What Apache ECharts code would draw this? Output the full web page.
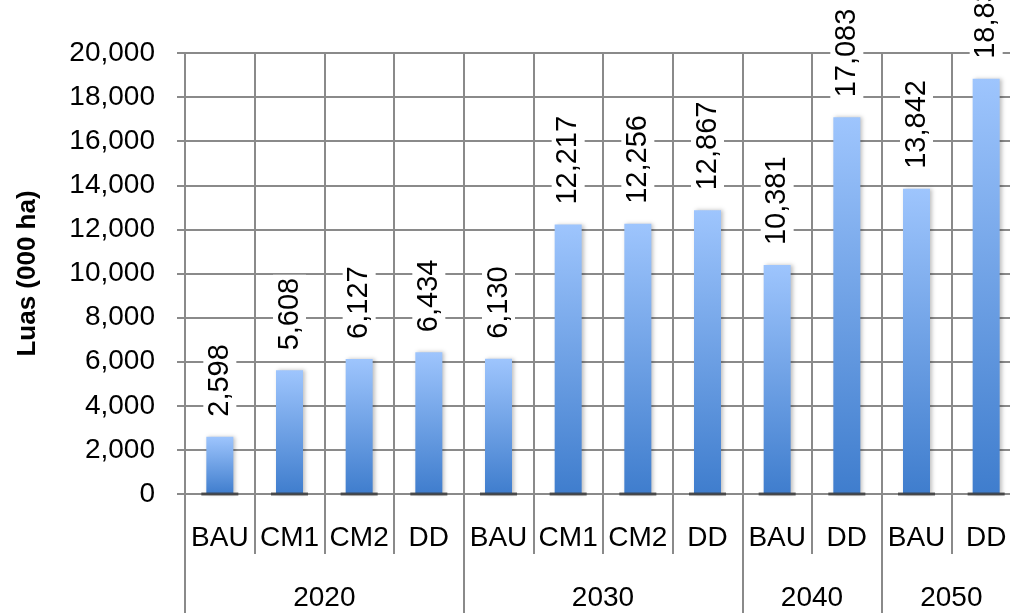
<!DOCTYPE html>
<html>
<head>
<meta charset="utf-8">
<style>html,body{margin:0;padding:0;background:#fff}#main{width:1010px;height:613px}</style>
<script src="https://cdn.jsdelivr.net/npm/echarts@6/dist/echarts.min.js"></script>
</head>
<body>
<div id="main"></div>
<script>
var scenarios = ['BAU', 'CM1', 'CM2', 'DD', 'BAU', 'CM1', 'CM2', 'DD', 'BAU', 'DD', 'BAU', 'DD'];
var values = [2598, 5608, 6127, 6434, 6130, 12217, 12256, 12867, 10381, 17083, 13842, 18830];
var years = ['2020', '2030', '2040', '2050'];
var yearCounts = [4, 4, 2, 2];

// year group boundaries and centres on a 0..12 value scale
var bounds = [0], centres = [];
yearCounts.forEach(function (n) {
  var start = bounds[bounds.length - 1];
  centres.push(start + n / 2);
  bounds.push(start + n);
});

var gridColor = '#8a8a8a';
var font = 'Liberation Sans';
var myChart = echarts.init(document.getElementById('main'));
myChart.setOption({
  animation: false,
  grid: { left: 185, width: 836, top: 53, bottom: 119, outerBoundsMode: 'none', containLabel: false },
  xAxis: [{
    type: 'category',
    data: scenarios,
    axisLine: { lineStyle: { color: gridColor, width: 2 } },
    axisTick: { show: true, interval: 0, length: 60, lineStyle: { color: gridColor, width: 2 } },
    splitLine: { show: true, interval: 0, lineStyle: { color: gridColor, width: 2 } },
    axisLabel: { interval: 0, color: '#000', fontFamily: font, fontSize: 28, margin: 30 }
  }, {
    type: 'value',
    min: 0,
    max: scenarios.length,
    position: 'bottom',
    axisLine: { show: false },
    splitLine: { show: false },
    axisTick: { show: true, customValues: bounds, length: 125, lineStyle: { color: gridColor, width: 2 } },
    axisLabel: {
      customValues: centres, color: '#000', fontFamily: font, fontSize: 28, margin: 90,
      formatter: function (v) { return years[centres.indexOf(v)]; }
    }
  }],
  yAxis: {
    type: 'value',
    min: 0,
    max: 20000,
    interval: 2000,
    name: 'Luas (000 ha)',
    nameLocation: 'middle',
    nameRotate: 90,
    nameGap: 144,
    nameTextStyle: { fontFamily: font, fontWeight: 'bold', fontSize: 26, color: '#000' },
    axisLine: { show: true, lineStyle: { color: gridColor, width: 2 } },
    axisTick: { show: true, length: 8, lineStyle: { color: gridColor, width: 2 } },
    splitLine: { lineStyle: { color: gridColor, width: 2 } },
    axisLabel: {
      color: '#000', fontFamily: font, fontSize: 28, margin: 30,
      formatter: function (v) { return v.toLocaleString('en-US'); }
    }
  },
  series: [{
    type: 'bar',
    data: values,
    barWidth: 27,
    z: 3,
    itemStyle: {
      color: new echarts.graphic.LinearGradient(0, 0, 0, 1, [
        { offset: 0, color: '#9ec5fd' },
        { offset: 1, color: '#3f7dcd' }
      ]),
      shadowColor: 'rgba(0,0,0,0.25)',
      shadowBlur: 4,
      shadowOffsetX: 2
    },
    label: {
      show: true,
      position: 'top',
      rotate: 90,
      align: 'left',
      verticalAlign: 'middle',
      distance: 17,
      color: '#000',
      fontFamily: font,
      fontSize: 29,
      backgroundColor: '#fff',
      padding: [2, 3],
      formatter: function (p) { return p.value.toLocaleString('en-US'); }
    }
  }, {
    type: 'scatter',
    data: values.map(function () { return 0; }),
    symbol: 'rect',
    symbolSize: [37, 3],
    z: 4,
    itemStyle: { color: '#3a3a3a' },
    silent: true
  }]
});
</script>
</body>
</html>
